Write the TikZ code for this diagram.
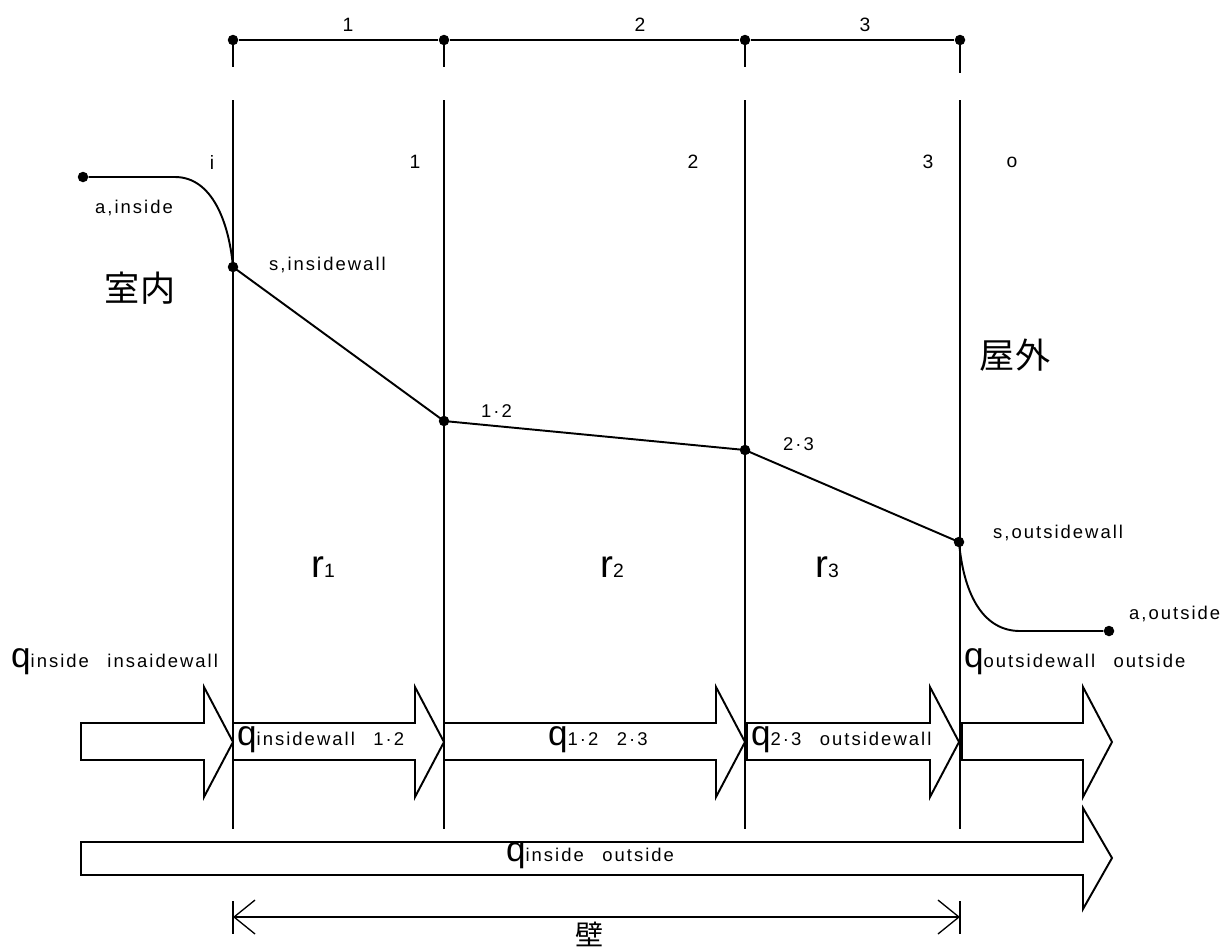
\documentclass[tikz,border=0pt]{standalone}
\usepackage{fontspec}
\usetikzlibrary{arrows.meta}
\setmainfont{Liberation Sans}
\newfontfamily\cjk{Noto Sans CJK JP}
\newfontfamily\spaced[LetterSpace=11]{Liberation Sans}
\newcommand{\qflow}[1]{{\fontsize{20}{20}\selectfont q}{\spaced\fontsize{10.5}{12}\selectfont #1}}
\newcommand{\rlayer}[1]{{\fontsize{22}{22}\selectfont r}{\fontsize{11}{12}\selectfont #1}}

\begin{document}
\begin{tikzpicture}[x=0.02cm, y=-0.02cm,
  dot/.style={circle, fill, inner sep=0pt, minimum size=0.21cm},
  lbl/.style={font=\spaced\fontsize{10.5}{12}\selectfont, inner sep=1pt},
  num/.style={font=\fontsize{11}{12}\selectfont, inner sep=1pt},
  room/.style={font=\cjk\fontsize{20}{24}\selectfont, inner sep=1pt},
  wall/.style={line width=0.75pt},
  flow/.style={line width=1.1pt, line join=miter},
  profile/.style={line width=1.1pt}]

\useasboundingbox (0,0) rectangle (1220,951);

% layer thickness line on top
\node[dot] (t0) at (233,40) {};
\node[dot] (t1) at (444,40) {};
\node[dot] (t2) at (745,40) {};
\node[dot] (t3) at (960,40) {};
\draw[wall] (t0) -- (t1) -- (t2) -- (t3);
\draw[wall] (t0.center) -- (233,67);
\draw[wall] (t1.center) -- (444,67);
\draw[wall] (t2.center) -- (745,67);
\draw[wall] (t3.center) -- (960,73);
\node[num] (d1) at (348,25) {1};
\node[num] (d2) at (640,25) {2};
\node[num] (d3) at (865,25) {3};

% wall boundaries
\foreach \x in {233,444,745,960}
  \draw[wall] (\x,100) -- (\x,829);

\node[num] (bi) at (212,162) {i};
\node[num] (b1) at (415,162) {1};
\node[num] (b2) at (693,162) {2};
\node[num] (b3) at (928,162) {3};
\node[num] (bo) at (1012,162) {o};

% temperature profile
\node[dot] (ain) at (83,177) {};
\node[dot] (sin) at (233,267) {};
\node[dot] (p12) at (444,421) {};
\node[dot] (p23) at (745,450) {};
\node[dot] (sout) at (959,542) {};
\node[dot] (aout) at (1109,631) {};
\draw[profile] (ain) -- (175,177) .. controls (212,177) and (229,222) .. (sin.center)
  -- (p12.center) -- (p23.center) -- (sout.center)
  .. controls (964,598) and (985,631) .. (1020,631) -- (aout);

\node[lbl] (lain) at (134,208) {a,inside};
\node[lbl, anchor=west] (lsin) at (267,265) {s,insidewall};
\node[lbl, anchor=west] (l12) at (479,411) {1·2};
\node[lbl, anchor=west] (l23) at (781,444) {2·3};
\node[lbl, anchor=west] (lsout) at (991,533) {s,outsidewall};
\node[lbl, anchor=west] (laout) at (1127,614) {a,outside};

\node[room] (inside) at (140,288) {室内};
\node[room] (outside) at (1015,355) {屋外};

% thermal resistances
\node (r1) at (323,567) {\rlayer{1}};
\node (r2) at (612,567) {\rlayer{2}};
\node (r3) at (827,567) {\rlayer{3}};

% heat flow arrows
\foreach \xa/\xb in {81/233, 233/444, 444/745, 747/959, 962/1112}
  \draw[flow] (\xa,723) -- (\xb-29,723) -- (\xb-29,687) -- (\xb,742)
    -- (\xb-29,797) -- (\xb-29,760) -- (\xa,760) -- cycle;
\draw[flow] (81,842) -- (1083,842) -- (1083,808) -- (1112,858)
  -- (1083,909) -- (1083,875) -- (81,875) -- cycle;

\node[anchor=west, inner sep=1pt] (qin) at (9,662) {\qflow{inside\quad insaidewall}};
\node[anchor=west, inner sep=1pt] (qout) at (962,662) {\qflow{outsidewall\quad outside}};
\node[anchor=west, inner sep=1pt] (q1) at (235,740) {\qflow{insidewall\quad 1·2}};
\node[anchor=west, inner sep=1pt] (q2) at (546,740) {\qflow{1·2\quad 2·3}};
\node[anchor=west, inner sep=1pt] (q3) at (749,740) {\qflow{2·3\quad outsidewall}};
\node[inner sep=1pt] (qall) at (590,856) {\qflow{inside\quad outside}};

% wall thickness
\coordinate (wl) at (233,917);
\coordinate (wr) at (960,917);
\draw[wall, {Straight Barb[length=0.42cm,width=0.68cm]}-{Straight Barb[length=0.42cm,width=0.68cm]}] (wl) -- (wr);
\draw[wall] (233,901) -- (233,934);
\draw[wall] (960,901) -- (960,934);
\node[room, font=\cjk\fontsize{16}{18}\selectfont] (wall) at (590,934) {壁};

\end{tikzpicture}
\end{document}
